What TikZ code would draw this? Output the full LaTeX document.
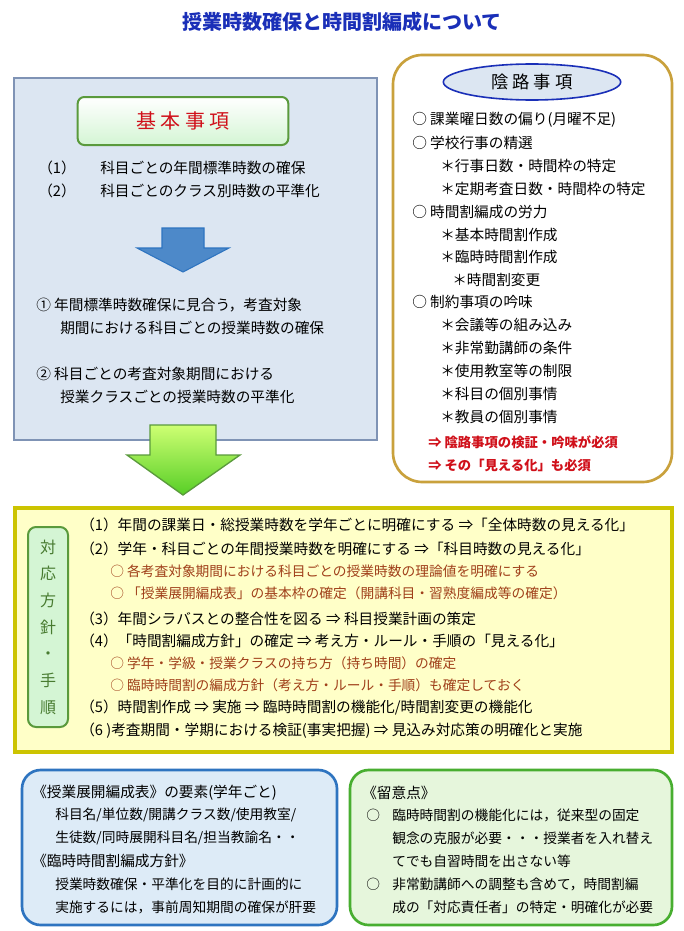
\documentclass[tikz,border=0pt]{standalone}
\usepackage{fontspec}
\setmainfont{Noto Sans CJK JP}
\usetikzlibrary{shapes.geometric}
\definecolor{ttl}{HTML}{1A2FB8}
\definecolor{lbfill}{HTML}{DCE6F2}
\definecolor{lbdraw}{HTML}{7F93B5}
\definecolor{gold}{HTML}{C9A13C}
\definecolor{ylw}{HTML}{FFFFC8}
\definecolor{ylwd}{HTML}{CCC400}
\definecolor{grn}{HTML}{5A9A3C}
\definecolor{lgrn}{HTML}{D4F5D4}
\definecolor{brn}{HTML}{A0401A}
\definecolor{rd}{HTML}{D0101A}
\definecolor{bblue}{HTML}{2E74C0}
\definecolor{bfill}{HTML}{DDEBF7}
\definecolor{gfill}{HTML}{E6F6DC}
\tikzset{t/.style={anchor=west,inner sep=0pt,font=\fontsize{11}{12}\selectfont},
 ts/.style={t,font=\fontsize{10.3}{12}\selectfont}}
\begin{document}
\begin{tikzpicture}[x=0.75pt,y=-0.75pt]
\useasboundingbox (0,0) rectangle (684,931);
\fill[white] (0,0) rectangle (684,931);
\node[font=\fontsize{15}{16}\selectfont\bfseries,text=ttl] (title) at (342,22) {授業時数確保と時間割編成について};
% left box
\draw[lbdraw,fill=lbfill,line width=1pt] (14,78) rectangle (377,440);
\node[draw=grn,line width=1.5pt,rounded corners=5pt,top color=white,bottom color=lgrn,minimum width=158pt,minimum height=36pt,text=rd,font=\fontsize{15}{16}\selectfont] (kihon) at (183,121) {基\ 本\ 事\ 項};
\node[t] (k1) at (38,168) {（1）};\node[t] (k1b) at (100,168) {科目ごとの年間標準時数の確保};
\node[t] (k2) at (38,191) {（2）};\node[t] (k2b) at (100,191) {科目ごとのクラス別時数の平準化};
\draw[bblue,fill=bblue!85,line width=0.8pt] (162,228) -- (204,228) -- (204,248) -- (229,248) -- (183,272) -- (137,248) -- (162,248) -- cycle;
\node[t] (m1) at (36,305) {①\ 年間標準時数確保に見合う，考査対象};
\node[t] (m1b) at (60,328) {期間における科目ごとの授業時数の確保};
\node[t] (m2) at (36,374) {②\ 科目ごとの考査対象期間における};
\node[t] (m2b) at (60,397) {授業クラスごとの授業時数の平準化};
% right box
\draw[gold,fill=white,line width=2pt,rounded corners=22pt] (393,55) rectangle (672,482);
\node[ellipse,draw=ttl,line width=1.2pt,fill=lbfill,minimum width=133pt,minimum height=27pt,font=\fontsize{13}{15}\selectfont] (inro) at (532,82) {陰\ 路\ 事\ 項};
\foreach \yy/\tx in {120/○\ 課業曜日数の偏り(月曜不足),143/○\ 学校行事の精選,212/○\ 時間割編成の労力,302/○\ 制約事項の吟味}{\node[t] at (412,\yy) {\tx};}
\foreach \yy/\tx in {166/＊行事日数・時間枠の特定,189/＊定期考査日数・時間枠の特定,235/＊基本時間割作成,257/＊臨時時間割作成,325/＊会議等の組み込み,348/＊非常勤講師の条件,371/＊使用教室等の制限,394/＊科目の個別事情,417/＊教員の個別事情}{\node[t] at (440,\yy) {\tx};}
\node[t] at (452,280) {＊時間割変更};
\node[t,text=rd,font=\fontsize{10}{12}\selectfont\bfseries] (r1) at (428,442) {⇒\ 陰路事項の検証・吟味が必須};
\node[t,text=rd,font=\fontsize{10}{12}\selectfont\bfseries] (r2) at (428,465) {⇒\ その「見える化」も必須};
% green arrow
\draw[grn,line width=1pt,top color=green!35!yellow!55,bottom color=green!55!olive!85] (150,425) -- (216,425) -- (216,455) -- (240,455) -- (183,495) -- (127,455) -- (150,455) -- cycle;
% middle box
\draw[ylwd,fill=ylw,line width=2.5pt] (15,508) rectangle (672,752);
\node[draw=grn,line width=1.5pt,fill=lgrn,rounded corners=6pt,minimum width=30pt,minimum height=150pt,text=grn!80!black,font=\fontsize{12}{20}\selectfont,align=center] (side) at (48,627) {対\\応\\方\\針\\・\\手\\順};
\node[t] at (80,525) {（1）年間の課業日・総授業時数を学年ごとに明確にする\ ⇒「全体時数の見える化」};
\node[t] at (80,549) {（2）学年・科目ごとの年間授業時数を明確にする\ ⇒「科目時数の見える化」};
\node[ts,text=brn] at (110,571) {○\ 各考査対象期間における科目ごとの授業時数の理論値を明確にする};
\node[ts,text=brn] at (110,593) {○\ 「授業展開編成表」の基本枠の確定（開講科目・習熟度編成等の確定）};
\node[t] at (80,619) {（3）年間シラバスとの整合性を図る\ ⇒\ 科目授業計画の策定};
\node[t] at (80,641) {（4）「時間割編成方針」の確定\ ⇒\ 考え方・ルール・手順の「見える化」};
\node[ts,text=brn] at (110,663) {○\ 学年・学級・授業クラスの持ち方（持ち時間）の確定};
\node[ts,text=brn] at (110,685) {○\ 臨時時間割の編成方針（考え方・ルール・手順）も確定しておく};
\node[t] at (80,708) {（5）時間割作成\ ⇒\ 実施\ ⇒\ 臨時時間割の機能化/時間割変更の機能化};
\node[t] at (80,731) {（6 )考査期間・学期における検証(事実把握)\ ⇒\ 見込み対応策の明確化と実施};
% bottom left
\draw[bblue,fill=bfill,line width=2pt,rounded corners=14pt] (22,770) rectangle (337,925);
\node[t] at (32,793) {《授業展開編成表》の要素(学年ごと)};
\node[ts] at (55,815) {科目名/単位数/開講クラス数/使用教室/};
\node[ts] at (55,838) {生徒数/同時展開科目名/担当教諭名・・};
\node[t] at (32,861) {《臨時時間割編成方針》};
\node[ts] at (55,884) {授業時数確保・平準化を目的に計画的に};
\node[ts] at (55,907) {実施するには，事前周知期間の確保が肝要};
% bottom right
\draw[grn!80!green,fill=gfill,line width=2pt,rounded corners=14pt] (350,770) rectangle (672,925);
\node[t] at (362,793) {《留意点》};
\node[ts] at (366,815) {○};\node[ts] at (392,815) {臨時時間割の機能化には，従来型の固定};
\node[ts] at (392,838) {観念の克服が必要・・・授業者を入れ替え};
\node[ts] at (392,861) {てでも自習時間を出さない等};
\node[ts] at (366,884) {○};\node[ts] at (392,884) {非常勤講師への調整も含めて，時間割編};
\node[ts] at (392,907) {成の「対応責任者」の特定・明確化が必要};
\end{tikzpicture}
\end{document}
